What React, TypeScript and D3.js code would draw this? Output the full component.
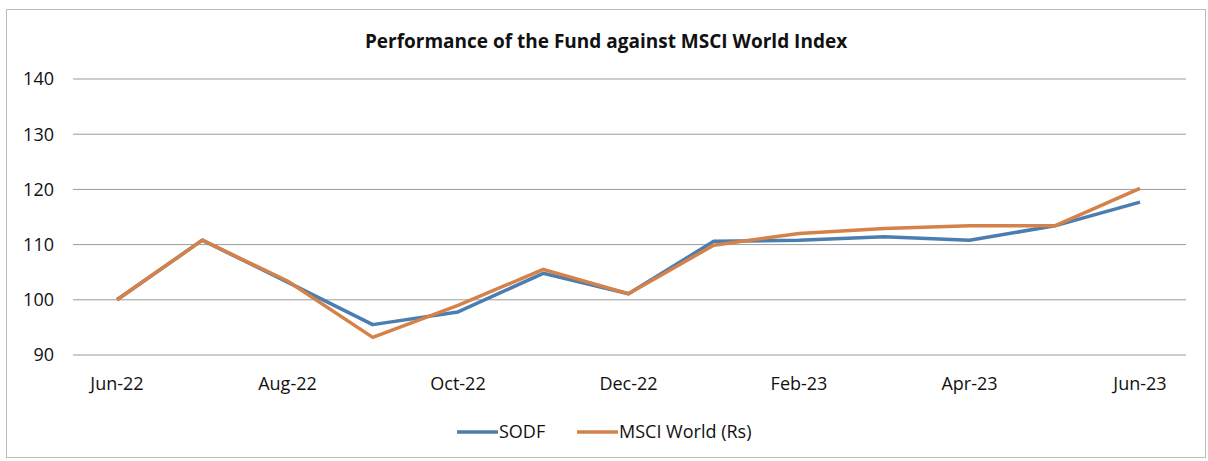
import React, { useEffect, useRef } from "react";
import * as d3 from "d3";

const W = 1208;
const H = 461;

const months = [
  "Jun-22", "Jul-22", "Aug-22", "Sep-22", "Oct-22", "Nov-22", "Dec-22",
  "Jan-23", "Feb-23", "Mar-23", "Apr-23", "May-23", "Jun-23",
];
const tickLabels = ["Jun-22", "Aug-22", "Oct-22", "Dec-22", "Feb-23", "Apr-23", "Jun-23"];
const yTicks = [90, 100, 110, 120, 130, 140];

const sodf = [100, 110.8, 103.2, 95.5, 97.8, 104.8, 101.1, 110.6, 110.8, 111.4, 110.8, 113.4, 117.7];
const msci = [100, 110.8, 103.4, 93.2, 99.0, 105.5, 101.1, 109.9, 112.0, 112.9, 113.4, 113.4, 120.2];

const seriesNames = ["SODF", "MSCI World (Rs)"];
const seriesColors = ["#4A7DB0", "#D5824A"];

const FONT = "'Open Sans', 'Noto Sans', sans-serif";

export default function App() {
  const ref = useRef<SVGSVGElement>(null);

  useEffect(() => {
    const svg = d3.select(ref.current);
    svg.selectAll("*").remove();

    // chart frame
    svg.append("rect")
      .attr("x", 6.5).attr("y", 9.5)
      .attr("width", 1199).attr("height", 448)
      .attr("fill", "white")
      .attr("stroke", "#bdbdbd");

    svg.append("text")
      .attr("x", 606).attr("y", 48)
      .attr("text-anchor", "middle")
      .style("font-family", FONT)
      .style("font-weight", "bold")
      .style("font-size", "19px")
      .attr("fill", "#111")
      .text("Performance of the Fund against MSCI World Index");

    const x = d3.scalePoint<string>().domain(months).range([117, 1140]);
    const y = d3.scaleLinear().domain([90, 140]).range([355, 79]);

    // gridlines
    svg.append("g").selectAll("line")
      .data(yTicks)
      .enter().append("line")
      .attr("x1", 73).attr("x2", 1186)
      .attr("y1", (d) => y(d)).attr("y2", (d) => y(d))
      .attr("stroke", "#9a9a9a")
      .attr("stroke-width", 1);

    svg.append("g").selectAll("text")
      .data(yTicks)
      .enter().append("text")
      .attr("x", 54).attr("y", (d) => y(d))
      .attr("dy", "0.35em")
      .attr("text-anchor", "end")
      .style("font-family", FONT)
      .style("font-size", "18px")
      .attr("fill", "#111")
      .text((d) => d);

    svg.append("g").selectAll("text")
      .data(tickLabels)
      .enter().append("text")
      .attr("x", (d) => x(d)!)
      .attr("y", 390)
      .attr("text-anchor", "middle")
      .style("font-family", FONT)
      .style("font-size", "18px")
      .attr("fill", "#111")
      .text((d) => d);

    const line = d3.line<number>()
      .x((_, i) => x(months[i])!)
      .y((d) => y(d));

    [sodf, msci].forEach((s, i) => {
      svg.append("path")
        .datum(s)
        .attr("d", line)
        .attr("fill", "none")
        .attr("stroke", seriesColors[i])
        .attr("stroke-width", 3.5)
        .attr("stroke-linejoin", "round");
    });

    // legend
    const legendX = [457, 577];
    seriesNames.forEach((name, i) => {
      const g = svg.append("g").attr("transform", `translate(${legendX[i]}, 432)`);
      g.append("line")
        .attr("x1", 0).attr("x2", 41)
        .attr("stroke", seriesColors[i])
        .attr("stroke-width", 3.5);
      g.append("text")
        .attr("x", 42).attr("dy", "0.35em")
        .style("font-family", FONT)
        .style("font-size", "18px")
        .attr("fill", "#111")
        .text(name);
    });
  }, []);

  return (
    <svg
      ref={ref}
      width={W}
      height={H}
      style={{ position: "absolute", left: 0, top: 0, background: "white" }}
    />
  );
}
